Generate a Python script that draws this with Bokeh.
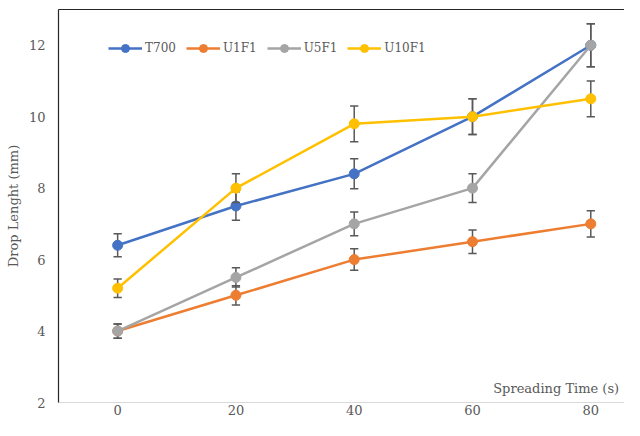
from bokeh.plotting import figure
from bokeh.models import (ColumnDataSource, Legend, LegendItem, Label, LinearAxis,
                          FixedTicker, Range1d)
from bokeh.embed import file_html
from bokeh.resources import INLINE

time = [0, 20, 40, 60, 80]
series_names = ["T700", "U1F1", "U5F1", "U10F1"]
t700 = [6.4, 7.5, 8.4, 10.0, 12.0]
t700_err = [0.32, 0.4, 0.42, 0.5, 0.6]
u1f1 = [4.0, 5.0, 6.0, 6.5, 7.0]
u1f1_err = [0.2, 0.27, 0.3, 0.33, 0.37]
u5f1 = [4.0, 5.5, 7.0, 8.0, 12.0]
u5f1_err = [0.2, 0.27, 0.33, 0.4, 0.6]
u10f1 = [5.2, 8.0, 9.8, 10.0, 10.5]
u10f1_err = [0.26, 0.4, 0.5, 0.5, 0.5]
colors = ["#4472C4", "#ED7D31", "#A5A5A5", "#FFC000"]
y_ticks = [2, 4, 6, 8, 10, 12]
x_ticks = [0, 20, 40, 60, 80]

FONT = "DejaVu Serif"
TXT = "#595959"

p = figure(width=624, height=420, output_backend="svg", toolbar_location=None,
           x_range=Range1d(-10, 85.7), y_range=Range1d(2, 13),
           min_border_left=58, min_border_right=0, min_border_top=9, min_border_bottom=18)
p.outline_line_color = None
p.xgrid.visible = False
p.ygrid.visible = False
p.background_fill_color = "white"
p.border_fill_color = "white"

xa = p.xaxis[0]
xa.ticker = FixedTicker(ticks=x_ticks)
xa.axis_line_color = "#D9D9D9"
xa.axis_line_width = 1
xa.major_tick_line_color = None
xa.minor_tick_line_color = None
xa.major_tick_out = 0
xa.major_tick_in = 0
xa.minor_tick_out = 0
xa.major_label_text_font = FONT
xa.major_label_text_font_size = "13px"
xa.major_label_text_color = TXT
xa.major_label_standoff = 2

ya = p.yaxis[0]
ya.ticker = FixedTicker(ticks=y_ticks)
ya.axis_line_color = "#262626"
ya.axis_line_width = 1.2
ya.major_tick_line_color = None
ya.minor_tick_line_color = None
ya.major_tick_out = 0
ya.major_tick_in = 0
ya.minor_tick_out = 0
ya.major_label_text_font = FONT
ya.major_label_text_font_size = "13px"
ya.major_label_text_color = TXT
ya.major_label_standoff = 13
ya.axis_label = "Drop Lenght (mm)"
ya.axis_label_text_font = FONT
ya.axis_label_text_font_style = "normal"
ya.axis_label_text_font_size = "13px"
ya.axis_label_text_color = TXT
ya.axis_label_standoff = 5

top = LinearAxis(ticker=FixedTicker(ticks=[]), axis_line_color="#262626", axis_line_width=1.2,
                 major_tick_line_color=None, minor_tick_line_color=None,
                 major_tick_out=0, major_tick_in=0, minor_tick_out=0,
                 major_label_text_font_size="0px", major_label_standoff=0)
p.add_layout(top, "above")

all_vals = [t700, u1f1, u5f1, u10f1]
all_errs = [t700_err, u1f1_err, u5f1_err, u10f1_err]
items = []
for name, vals, errs, c in zip(series_names, all_vals, all_errs, colors):
    src = ColumnDataSource(dict(x=time, y=vals,
                                lo=[v - e for v, e in zip(vals, errs)],
                                hi=[v + e for v, e in zip(vals, errs)],
                                xl=[t - 0.7 for t in time], xr=[t + 0.7 for t in time]))
    ln = p.line("x", "y", source=src, line_color=c, line_width=2.5)
    p.segment(x0="x", y0="lo", x1="x", y1="hi", source=src, line_color="#595959", line_width=1.5)
    p.segment(x0="xl", y0="lo", x1="xr", y1="lo", source=src, line_color="#595959", line_width=1.5)
    p.segment(x0="xl", y0="hi", x1="xr", y1="hi", source=src, line_color="#595959", line_width=1.5)
    sc = p.scatter("x", "y", source=src, size=10, fill_color=c, line_color=c)
    items.append(LegendItem(label=name, renderers=[ln, sc]))

legend = Legend(items=items, orientation="horizontal", location=(50, 344),
                border_line_color=None, background_fill_alpha=0, padding=0, margin=0,
                spacing=10, glyph_width=34, glyph_height=20, label_height=20,
                label_standoff=3, label_text_font=FONT, label_text_font_size="12px",
                label_text_color=TXT)
p.add_layout(legend)

p.add_layout(Label(x=84.8, y=2.39, text="Spreading Time (s)", text_font=FONT,
                   text_font_size="13px", text_color=TXT, text_align="right",
                   text_baseline="middle"))

open("out.html", "w").write(file_html(p, INLINE))
